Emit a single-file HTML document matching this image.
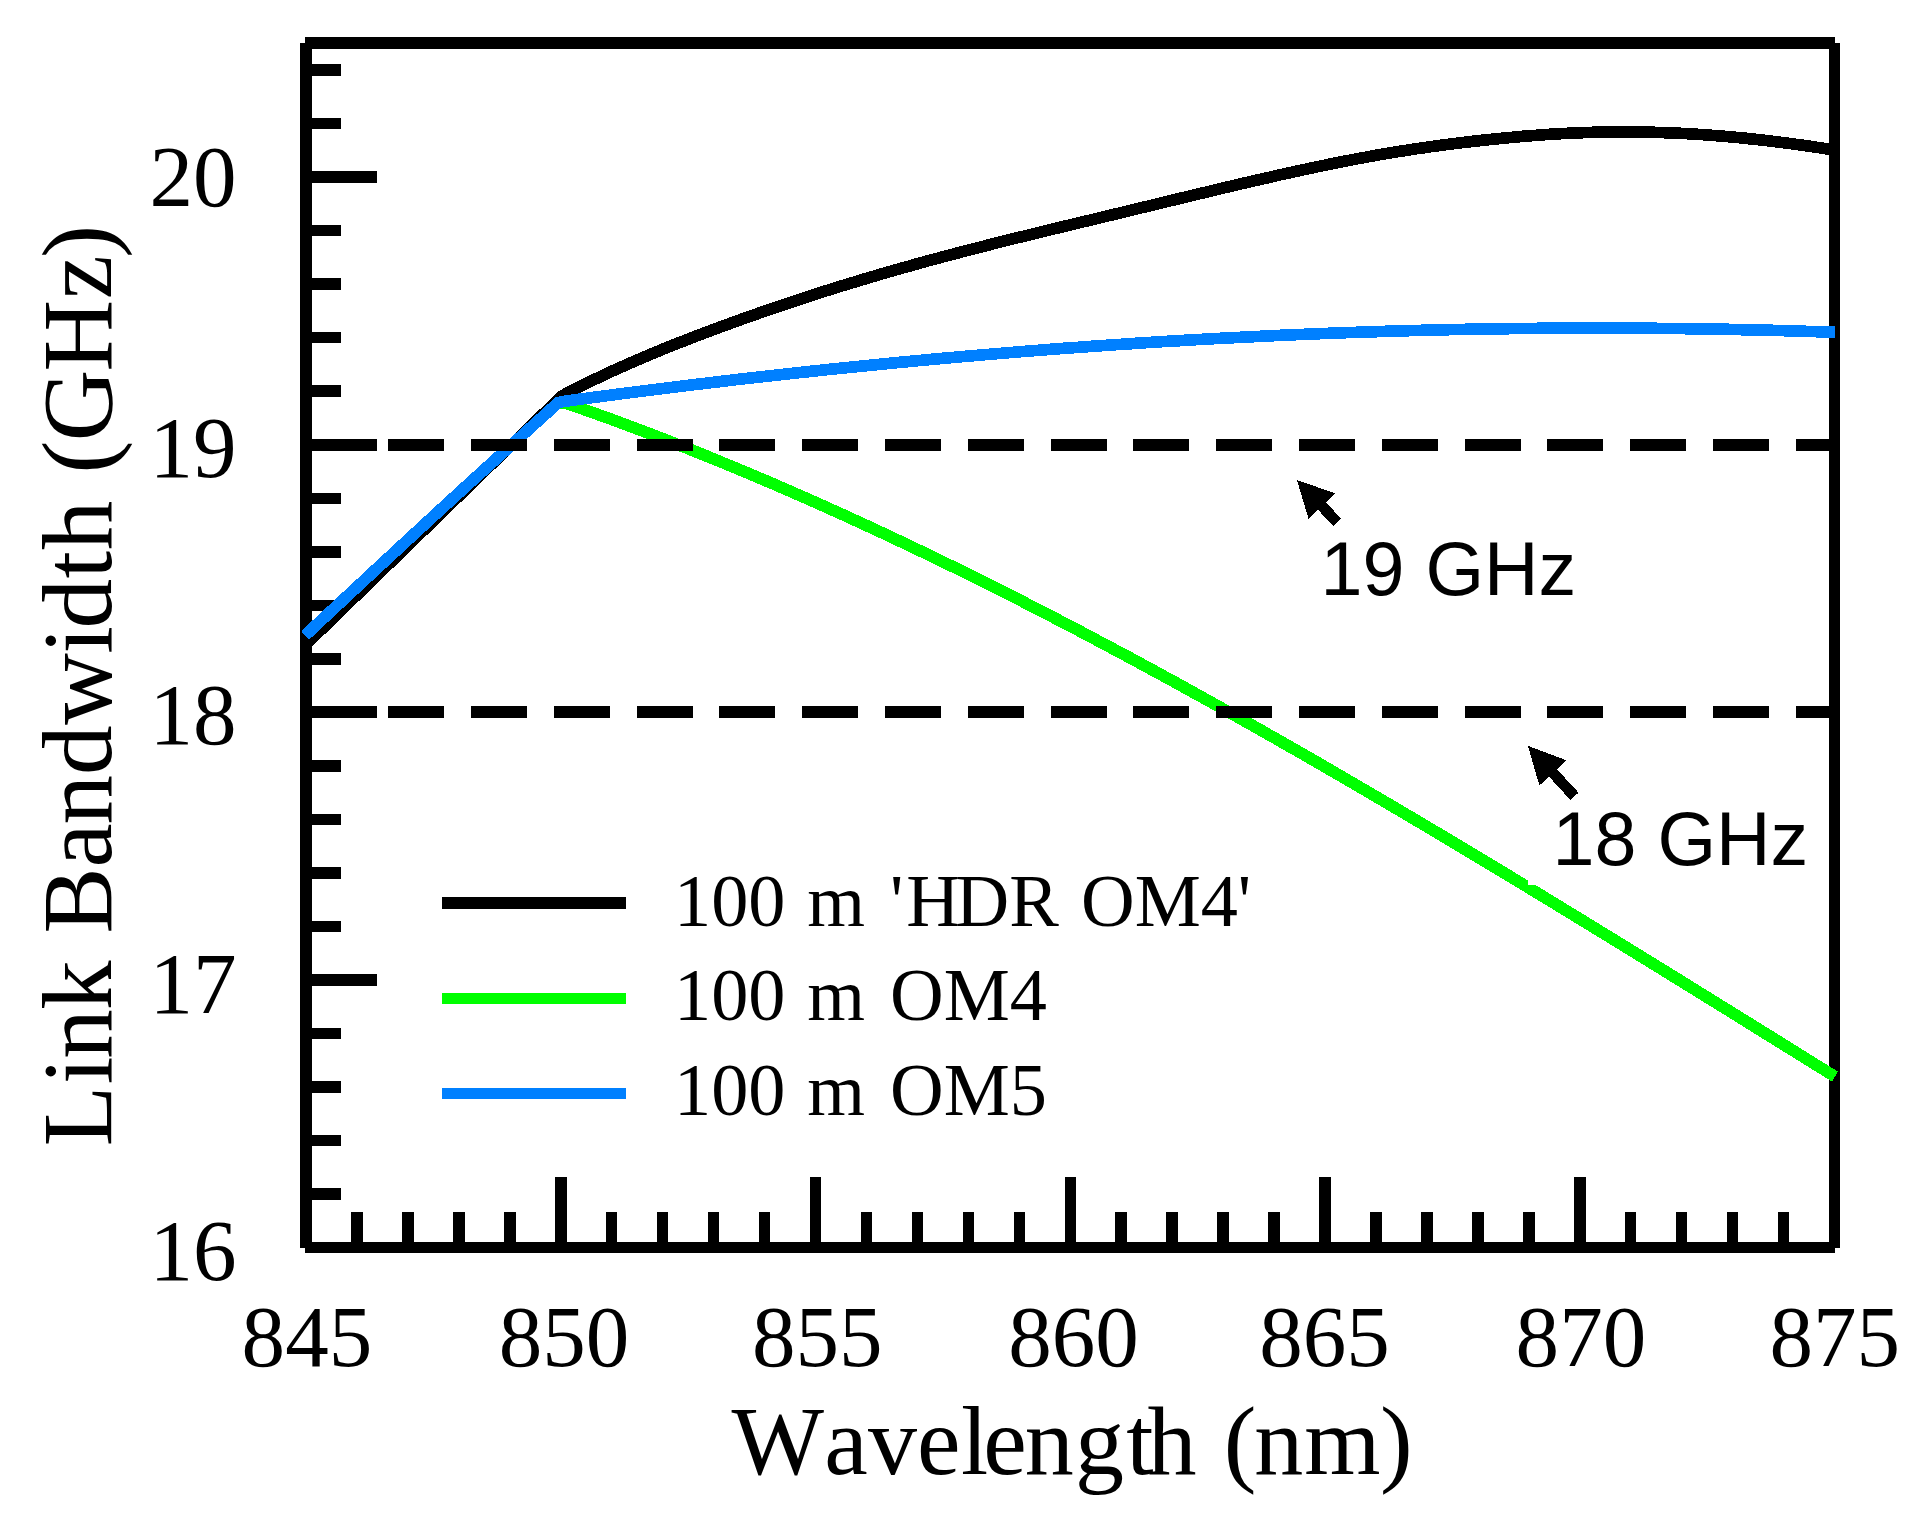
<!DOCTYPE html>
<html lang="en"><head><meta charset="utf-8"><title>Link Bandwidth vs Wavelength</title>
<style>html,body{margin:0;padding:0;background:#fff}body{width:1920px;height:1528px;overflow:hidden}svg{display:block}text{font-kerning:none;font-variant-ligatures:none;fill:#000;white-space:pre}.serif{font-family:"Liberation Serif","Times New Roman",Times,serif}.sans{font-family:"Liberation Sans",Arial,Helvetica,sans-serif}</style></head><body>
<svg width="1920" height="1528" viewBox="0 0 1920 1528" shape-rendering="crispEdges">
<rect width="1920" height="1528" fill="#fff"/>
<g id="axes">
<rect x="300" y="43" width="12" height="1205" fill="#000"/>
<rect x="1829" y="43" width="11" height="1205" fill="#000"/>
<rect x="305" y="37" width="1530" height="12" fill="#000"/>
<rect x="305" y="1242" width="1530" height="11" fill="#000"/>
<rect x="300" y="1188" width="41" height="12" fill="#000"/>
<rect x="300" y="1135" width="41" height="11" fill="#000"/>
<rect x="300" y="1081" width="41" height="12" fill="#000"/>
<rect x="300" y="1028" width="41" height="11" fill="#000"/>
<rect x="300" y="974" width="77" height="12" fill="#000"/>
<rect x="300" y="921" width="41" height="11" fill="#000"/>
<rect x="300" y="867" width="41" height="12" fill="#000"/>
<rect x="300" y="814" width="41" height="11" fill="#000"/>
<rect x="300" y="760" width="41" height="12" fill="#000"/>
<rect x="300" y="706" width="77" height="12" fill="#000"/>
<rect x="300" y="653" width="41" height="12" fill="#000"/>
<rect x="300" y="600" width="41" height="11" fill="#000"/>
<rect x="300" y="546" width="41" height="12" fill="#000"/>
<rect x="300" y="493" width="41" height="11" fill="#000"/>
<rect x="300" y="439" width="77" height="12" fill="#000"/>
<rect x="300" y="385" width="41" height="12" fill="#000"/>
<rect x="300" y="332" width="41" height="11" fill="#000"/>
<rect x="300" y="278" width="41" height="12" fill="#000"/>
<rect x="300" y="225" width="41" height="11" fill="#000"/>
<rect x="300" y="171" width="77" height="12" fill="#000"/>
<rect x="300" y="118" width="41" height="11" fill="#000"/>
<rect x="300" y="64" width="41" height="12" fill="#000"/>
<rect x="351" y="1212" width="12" height="41" fill="#000"/>
<rect x="402" y="1212" width="12" height="41" fill="#000"/>
<rect x="453" y="1212" width="12" height="41" fill="#000"/>
<rect x="504" y="1212" width="12" height="41" fill="#000"/>
<rect x="555" y="1177" width="12" height="76" fill="#000"/>
<rect x="606" y="1212" width="11" height="41" fill="#000"/>
<rect x="657" y="1212" width="11" height="41" fill="#000"/>
<rect x="708" y="1212" width="11" height="41" fill="#000"/>
<rect x="759" y="1212" width="11" height="41" fill="#000"/>
<rect x="810" y="1177" width="11" height="76" fill="#000"/>
<rect x="861" y="1212" width="11" height="41" fill="#000"/>
<rect x="912" y="1212" width="11" height="41" fill="#000"/>
<rect x="963" y="1212" width="11" height="41" fill="#000"/>
<rect x="1014" y="1212" width="11" height="41" fill="#000"/>
<rect x="1065" y="1177" width="11" height="76" fill="#000"/>
<rect x="1115" y="1212" width="12" height="41" fill="#000"/>
<rect x="1166" y="1212" width="12" height="41" fill="#000"/>
<rect x="1217" y="1212" width="12" height="41" fill="#000"/>
<rect x="1268" y="1212" width="12" height="41" fill="#000"/>
<rect x="1319" y="1177" width="12" height="76" fill="#000"/>
<rect x="1370" y="1212" width="12" height="41" fill="#000"/>
<rect x="1421" y="1212" width="12" height="41" fill="#000"/>
<rect x="1472" y="1212" width="12" height="41" fill="#000"/>
<rect x="1523" y="1212" width="12" height="41" fill="#000"/>
<rect x="1574" y="1177" width="12" height="76" fill="#000"/>
<rect x="1625" y="1212" width="11" height="41" fill="#000"/>
<rect x="1676" y="1212" width="11" height="41" fill="#000"/>
<rect x="1727" y="1212" width="11" height="41" fill="#000"/>
<rect x="1778" y="1212" width="11" height="41" fill="#000"/>
</g>
<g id="curves" fill="none" stroke-linecap="butt" stroke-linejoin="miter" stroke-width="11.7">
<path d="M305.0 645.3 L561.3 396.5 L566.0 393.8 L570.0 391.7 L574.0 389.6 L578.0 387.6 L582.0 385.6 L586.0 383.6 L590.0 381.6 L594.0 379.7 L598.0 377.8 L602.0 375.9 L606.0 374.0 L610.0 372.1 L614.0 370.3 L618.0 368.5 L622.0 366.7 L626.0 364.9 L630.0 363.1 L634.0 361.4 L638.0 359.7 L642.0 358.0 L646.0 356.3 L650.0 354.6 L654.0 352.9 L658.0 351.3 L662.0 349.6 L666.0 348.0 L670.0 346.4 L674.0 344.8 L678.0 343.2 L682.0 341.6 L686.0 340.1 L690.0 338.5 L694.0 337.0 L698.0 335.4 L702.0 333.9 L706.0 332.4 L710.0 330.9 L714.0 329.4 L718.0 327.9 L722.0 326.4 L726.0 324.9 L730.0 323.5 L734.0 322.0 L738.0 320.6 L742.0 319.1 L746.0 317.7 L750.0 316.3 L754.0 314.9 L758.0 313.5 L762.0 312.1 L766.0 310.7 L770.0 309.3 L774.0 307.9 L778.0 306.6 L782.0 305.2 L786.0 303.9 L790.0 302.5 L794.0 301.2 L798.0 299.9 L802.0 298.6 L806.0 297.2 L810.0 295.9 L814.0 294.7 L818.0 293.4 L822.0 292.1 L826.0 290.8 L830.0 289.6 L834.0 288.3 L838.0 287.1 L842.0 285.8 L846.0 284.6 L850.0 283.4 L854.0 282.2 L858.0 280.9 L862.0 279.7 L866.0 278.6 L870.0 277.4 L874.0 276.2 L878.0 275.0 L882.0 273.8 L886.0 272.7 L890.0 271.5 L894.0 270.4 L898.0 269.2 L902.0 268.1 L906.0 267.0 L910.0 265.9 L914.0 264.7 L918.0 263.6 L922.0 262.5 L926.0 261.4 L930.0 260.3 L934.0 259.3 L938.0 258.2 L942.0 257.1 L946.0 256.0 L950.0 255.0 L954.0 253.9 L958.0 252.9 L962.0 251.8 L966.0 250.8 L970.0 249.8 L974.0 248.7 L978.0 247.7 L982.0 246.7 L986.0 245.7 L990.0 244.6 L994.0 243.6 L998.0 242.6 L1002.0 241.6 L1006.0 240.6 L1010.0 239.6 L1014.0 238.6 L1018.0 237.6 L1022.0 236.7 L1026.0 235.7 L1030.0 234.7 L1034.0 233.7 L1038.0 232.7 L1042.0 231.8 L1046.0 230.8 L1050.0 229.8 L1054.0 228.8 L1058.0 227.9 L1062.0 226.9 L1066.0 225.9 L1070.0 225.0 L1074.0 224.0 L1078.0 223.1 L1082.0 222.1 L1086.0 221.1 L1090.0 220.2 L1094.0 219.2 L1098.0 218.2 L1102.0 217.3 L1106.0 216.3 L1110.0 215.4 L1114.0 214.4 L1118.0 213.4 L1122.0 212.5 L1126.0 211.5 L1130.0 210.5 L1134.0 209.6 L1138.0 208.6 L1142.0 207.6 L1146.0 206.7 L1150.0 205.7 L1154.0 204.7 L1158.0 203.8 L1162.0 202.8 L1166.0 201.8 L1170.0 200.8 L1174.0 199.9 L1178.0 198.9 L1182.0 197.9 L1186.0 197.0 L1190.0 196.0 L1194.0 195.0 L1198.0 194.1 L1202.0 193.1 L1206.0 192.2 L1210.0 191.2 L1214.0 190.2 L1218.0 189.3 L1222.0 188.3 L1226.0 187.4 L1230.0 186.4 L1234.0 185.5 L1238.0 184.6 L1242.0 183.6 L1246.0 182.7 L1250.0 181.8 L1254.0 180.8 L1258.0 179.9 L1262.0 179.0 L1266.0 178.1 L1270.0 177.2 L1274.0 176.2 L1278.0 175.3 L1282.0 174.4 L1286.0 173.5 L1290.0 172.7 L1294.0 171.8 L1298.0 170.9 L1302.0 170.0 L1306.0 169.2 L1310.0 168.3 L1314.0 167.5 L1318.0 166.6 L1322.0 165.8 L1326.0 165.0 L1330.0 164.1 L1334.0 163.3 L1338.0 162.5 L1342.0 161.7 L1346.0 160.9 L1350.0 160.2 L1354.0 159.4 L1358.0 158.6 L1362.0 157.9 L1366.0 157.2 L1370.0 156.4 L1374.0 155.7 L1378.0 155.0 L1382.0 154.3 L1386.0 153.6 L1390.0 153.0 L1394.0 152.3 L1398.0 151.6 L1402.0 151.0 L1406.0 150.4 L1410.0 149.7 L1414.0 149.1 L1418.0 148.5 L1422.0 148.0 L1426.0 147.4 L1430.0 146.8 L1434.0 146.3 L1438.0 145.7 L1442.0 145.2 L1446.0 144.6 L1450.0 144.1 L1454.0 143.6 L1458.0 143.1 L1462.0 142.6 L1466.0 142.2 L1470.0 141.7 L1474.0 141.2 L1478.0 140.8 L1482.0 140.3 L1486.0 139.9 L1490.0 139.5 L1494.0 139.1 L1498.0 138.7 L1502.0 138.3 L1506.0 137.9 L1510.0 137.5 L1514.0 137.2 L1518.0 136.8 L1522.0 136.4 L1526.0 136.1 L1530.0 135.8 L1534.0 135.5 L1538.0 135.2 L1542.0 134.9 L1546.0 134.6 L1550.0 134.3 L1554.0 134.1 L1558.0 133.8 L1562.0 133.6 L1566.0 133.4 L1570.0 133.2 L1574.0 133.0 L1578.0 132.8 L1582.0 132.7 L1586.0 132.5 L1590.0 132.4 L1594.0 132.3 L1598.0 132.2 L1602.0 132.1 L1606.0 132.0 L1610.0 132.0 L1614.0 132.0 L1618.0 131.9 L1622.0 131.9 L1626.0 131.9 L1630.0 131.9 L1634.0 132.0 L1638.0 132.0 L1642.0 132.1 L1646.0 132.2 L1650.0 132.2 L1654.0 132.3 L1658.0 132.5 L1662.0 132.6 L1666.0 132.7 L1670.0 132.9 L1674.0 133.1 L1678.0 133.2 L1682.0 133.4 L1686.0 133.6 L1690.0 133.9 L1694.0 134.1 L1698.0 134.4 L1702.0 134.6 L1706.0 134.9 L1710.0 135.2 L1714.0 135.5 L1718.0 135.8 L1722.0 136.1 L1726.0 136.5 L1730.0 136.8 L1734.0 137.2 L1738.0 137.6 L1742.0 137.9 L1746.0 138.3 L1750.0 138.8 L1754.0 139.2 L1758.0 139.6 L1762.0 140.1 L1766.0 140.5 L1770.0 141.0 L1774.0 141.5 L1778.0 142.0 L1782.0 142.5 L1786.0 143.0 L1790.0 143.5 L1794.0 144.1 L1798.0 144.6 L1802.0 145.2 L1806.0 145.7 L1810.0 146.3 L1814.0 146.9 L1818.0 147.5 L1822.0 148.1 L1826.0 148.8 L1830.0 149.4 L1834.0 150.1 L1835.5 150.3" stroke="#000"/>
<path d="M558.1 402.7 L566.0 403.2 L570.0 404.6 L574.0 406.0 L578.0 407.4 L582.0 408.8 L586.0 410.2 L590.0 411.6 L594.0 413.0 L598.0 414.5 L602.0 415.9 L606.0 417.4 L610.0 418.8 L614.0 420.3 L618.0 421.8 L622.0 423.3 L626.0 424.8 L630.0 426.2 L634.0 427.7 L638.0 429.3 L642.0 430.8 L646.0 432.3 L650.0 433.8 L654.0 435.3 L658.0 436.9 L662.0 438.4 L666.0 440.0 L670.0 441.5 L674.0 443.1 L678.0 444.7 L682.0 446.3 L686.0 447.8 L690.0 449.4 L694.0 451.0 L698.0 452.6 L702.0 454.2 L706.0 455.8 L710.0 457.5 L714.0 459.1 L718.0 460.7 L722.0 462.4 L726.0 464.0 L730.0 465.7 L734.0 467.3 L738.0 469.0 L742.0 470.7 L746.0 472.3 L750.0 474.0 L754.0 475.7 L758.0 477.4 L762.0 479.1 L766.0 480.8 L770.0 482.5 L774.0 484.2 L778.0 486.0 L782.0 487.7 L786.0 489.4 L790.0 491.2 L794.0 492.9 L798.0 494.7 L802.0 496.4 L806.0 498.2 L810.0 500.0 L814.0 501.7 L818.0 503.5 L822.0 505.3 L826.0 507.1 L830.0 508.9 L834.0 510.7 L838.0 512.5 L842.0 514.3 L846.0 516.1 L850.0 518.0 L854.0 519.8 L858.0 521.6 L862.0 523.5 L866.0 525.3 L870.0 527.2 L874.0 529.0 L878.0 530.9 L882.0 532.7 L886.0 534.6 L890.0 536.5 L894.0 538.4 L898.0 540.3 L902.0 542.2 L906.0 544.1 L910.0 546.0 L914.0 547.9 L918.0 549.8 L922.0 551.7 L926.0 553.6 L930.0 555.6 L934.0 557.5 L938.0 559.4 L942.0 561.4 L946.0 563.3 L950.0 565.3 L954.0 567.2 L958.0 569.2 L962.0 571.2 L966.0 573.1 L970.0 575.1 L974.0 577.1 L978.0 579.1 L982.0 581.1 L986.0 583.1 L990.0 585.1 L994.0 587.1 L998.0 589.1 L1002.0 591.1 L1006.0 593.1 L1010.0 595.1 L1014.0 597.2 L1018.0 599.2 L1022.0 601.2 L1026.0 603.3 L1030.0 605.3 L1034.0 607.4 L1038.0 609.4 L1042.0 611.5 L1046.0 613.6 L1050.0 615.6 L1054.0 617.7 L1058.0 619.8 L1062.0 621.9 L1066.0 623.9 L1070.0 626.0 L1074.0 628.1 L1078.0 630.2 L1082.0 632.3 L1086.0 634.4 L1090.0 636.5 L1094.0 638.6 L1098.0 640.8 L1102.0 642.9 L1106.0 645.0 L1110.0 647.1 L1114.0 649.3 L1118.0 651.4 L1122.0 653.6 L1126.0 655.7 L1130.0 657.8 L1134.0 660.0 L1138.0 662.2 L1142.0 664.3 L1146.0 666.5 L1150.0 668.7 L1154.0 670.8 L1158.0 673.0 L1162.0 675.2 L1166.0 677.4 L1170.0 679.6 L1174.0 681.7 L1178.0 683.9 L1182.0 686.1 L1186.0 688.3 L1190.0 690.5 L1194.0 692.8 L1198.0 695.0 L1202.0 697.2 L1206.0 699.4 L1210.0 701.6 L1214.0 703.8 L1218.0 706.1 L1222.0 708.3 L1226.0 710.5 L1230.0 712.8 L1234.0 715.0 L1238.0 717.3 L1242.0 719.5 L1246.0 721.8 L1250.0 724.0 L1254.0 726.3 L1258.0 728.5 L1262.0 730.8 L1266.0 733.1 L1270.0 735.4 L1274.0 737.6 L1278.0 739.9 L1282.0 742.2 L1286.0 744.5 L1290.0 746.8 L1294.0 749.0 L1298.0 751.3 L1302.0 753.6 L1306.0 755.9 L1310.0 758.2 L1314.0 760.5 L1318.0 762.8 L1322.0 765.1 L1326.0 767.5 L1330.0 769.8 L1334.0 772.1 L1338.0 774.4 L1342.0 776.7 L1346.0 779.1 L1350.0 781.4 L1354.0 783.7 L1358.0 786.1 L1362.0 788.4 L1366.0 790.7 L1370.0 793.1 L1374.0 795.4 L1378.0 797.8 L1382.0 800.1 L1386.0 802.5 L1390.0 804.8 L1394.0 807.2 L1398.0 809.5 L1402.0 811.9 L1406.0 814.3 L1410.0 816.6 L1414.0 819.0 L1418.0 821.4 L1422.0 823.7 L1426.0 826.1 L1430.0 828.5 L1434.0 830.9 L1438.0 833.2 L1442.0 835.6 L1446.0 838.0 L1450.0 840.4 L1454.0 842.8 L1458.0 845.2 L1462.0 847.6 L1466.0 850.0 L1470.0 852.4 L1474.0 854.8 L1478.0 857.2 L1482.0 859.6 L1486.0 862.0 L1490.0 864.4 L1494.0 866.8 L1498.0 869.2 L1502.0 871.6 L1506.0 874.0 L1510.0 876.4 L1514.0 878.9 L1518.0 881.3 L1522.0 883.7 L1526.0 886.1 L1530.0 888.6 L1534.0 891.0 L1538.0 893.4 L1542.0 895.8 L1546.0 898.3 L1550.0 900.7 L1554.0 903.1 L1558.0 905.6 L1562.0 908.0 L1566.0 910.5 L1570.0 912.9 L1574.0 915.3 L1578.0 917.8 L1582.0 920.2 L1586.0 922.7 L1590.0 925.1 L1594.0 927.6 L1598.0 930.0 L1602.0 932.5 L1606.0 934.9 L1610.0 937.4 L1614.0 939.8 L1618.0 942.3 L1622.0 944.7 L1626.0 947.2 L1630.0 949.7 L1634.0 952.1 L1638.0 954.6 L1642.0 957.0 L1646.0 959.5 L1650.0 962.0 L1654.0 964.4 L1658.0 966.9 L1662.0 969.4 L1666.0 971.8 L1670.0 974.3 L1674.0 976.8 L1678.0 979.2 L1682.0 981.7 L1686.0 984.2 L1690.0 986.7 L1694.0 989.1 L1698.0 991.6 L1702.0 994.1 L1706.0 996.6 L1710.0 999.0 L1714.0 1001.5 L1718.0 1004.0 L1722.0 1006.5 L1726.0 1008.9 L1730.0 1011.4 L1734.0 1013.9 L1738.0 1016.4 L1742.0 1018.9 L1746.0 1021.3 L1750.0 1023.8 L1754.0 1026.3 L1758.0 1028.8 L1762.0 1031.3 L1766.0 1033.8 L1770.0 1036.2 L1774.0 1038.7 L1778.0 1041.2 L1782.0 1043.7 L1786.0 1046.2 L1790.0 1048.7 L1794.0 1051.1 L1798.0 1053.6 L1802.0 1056.1 L1806.0 1058.6 L1810.0 1061.1 L1814.0 1063.6 L1818.0 1066.1 L1822.0 1068.5 L1826.0 1071.0 L1830.0 1073.5 L1834.0 1076.0 L1835.0 1076.6" stroke="#00ff00"/>
<path d="M305.2 635.4 L328.2 613.8 L351.2 592.4 L374.2 571.0 L397.2 549.7 L420.2 528.4 L443.1 507.3 L466.1 486.2 L489.1 465.3 L512.1 444.4 L535.1 423.6 L558.1 402.8 L563.0 401.5 L567.0 401.0 L571.0 400.4 L575.0 399.9 L579.0 399.3 L583.0 398.8 L587.0 398.3 L591.0 397.7 L595.0 397.2 L599.0 396.7 L603.0 396.1 L607.0 395.6 L611.0 395.1 L615.0 394.6 L619.0 394.0 L623.0 393.5 L627.0 393.0 L631.0 392.5 L635.0 392.0 L639.0 391.5 L643.0 391.0 L647.0 390.5 L651.0 390.0 L655.0 389.5 L659.0 389.0 L663.0 388.5 L667.0 388.0 L671.0 387.5 L675.0 387.0 L679.0 386.5 L683.0 386.0 L687.0 385.5 L691.0 385.0 L695.0 384.5 L699.0 384.0 L703.0 383.6 L707.0 383.1 L711.0 382.6 L715.0 382.1 L719.0 381.7 L723.0 381.2 L727.0 380.7 L731.0 380.3 L735.0 379.8 L739.0 379.3 L743.0 378.9 L747.0 378.4 L751.0 378.0 L755.0 377.5 L759.0 377.0 L763.0 376.6 L767.0 376.1 L771.0 375.7 L775.0 375.3 L779.0 374.8 L783.0 374.4 L787.0 373.9 L791.0 373.5 L795.0 373.1 L799.0 372.6 L803.0 372.2 L807.0 371.8 L811.0 371.3 L815.0 370.9 L819.0 370.5 L823.0 370.1 L827.0 369.6 L831.0 369.2 L835.0 368.8 L839.0 368.4 L843.0 368.0 L847.0 367.6 L851.0 367.2 L855.0 366.8 L859.0 366.4 L863.0 366.0 L867.0 365.6 L871.0 365.2 L875.0 364.8 L879.0 364.4 L883.0 364.0 L887.0 363.6 L891.0 363.2 L895.0 362.8 L899.0 362.4 L903.0 362.0 L907.0 361.7 L911.0 361.3 L915.0 360.9 L919.0 360.5 L923.0 360.2 L927.0 359.8 L931.0 359.4 L935.0 359.1 L939.0 358.7 L943.0 358.3 L947.0 358.0 L951.0 357.6 L955.0 357.3 L959.0 356.9 L963.0 356.6 L967.0 356.2 L971.0 355.9 L975.0 355.5 L979.0 355.2 L983.0 354.8 L987.0 354.5 L991.0 354.2 L995.0 353.8 L999.0 353.5 L1003.0 353.2 L1007.0 352.8 L1011.0 352.5 L1015.0 352.2 L1019.0 351.8 L1023.0 351.5 L1027.0 351.2 L1031.0 350.9 L1035.0 350.6 L1039.0 350.3 L1043.0 350.0 L1047.0 349.6 L1051.0 349.3 L1055.0 349.0 L1059.0 348.7 L1063.0 348.4 L1067.0 348.1 L1071.0 347.8 L1075.0 347.6 L1079.0 347.3 L1083.0 347.0 L1087.0 346.7 L1091.0 346.4 L1095.0 346.1 L1099.0 345.8 L1103.0 345.6 L1107.0 345.3 L1111.0 345.0 L1115.0 344.7 L1119.0 344.5 L1123.0 344.2 L1127.0 343.9 L1131.0 343.7 L1135.0 343.4 L1139.0 343.1 L1143.0 342.9 L1147.0 342.6 L1151.0 342.4 L1155.0 342.1 L1159.0 341.9 L1163.0 341.6 L1167.0 341.4 L1171.0 341.1 L1175.0 340.9 L1179.0 340.7 L1183.0 340.4 L1187.0 340.2 L1191.0 340.0 L1195.0 339.7 L1199.0 339.5 L1203.0 339.3 L1207.0 339.1 L1211.0 338.8 L1215.0 338.6 L1219.0 338.4 L1223.0 338.2 L1227.0 338.0 L1231.0 337.8 L1235.0 337.6 L1239.0 337.4 L1243.0 337.2 L1247.0 337.0 L1251.0 336.8 L1255.0 336.6 L1259.0 336.4 L1263.0 336.2 L1267.0 336.0 L1271.0 335.8 L1275.0 335.6 L1279.0 335.4 L1283.0 335.2 L1287.0 335.1 L1291.0 334.9 L1295.0 334.7 L1299.0 334.5 L1303.0 334.4 L1307.0 334.2 L1311.0 334.0 L1315.0 333.9 L1319.0 333.7 L1323.0 333.5 L1327.0 333.4 L1331.0 333.2 L1335.0 333.1 L1339.0 332.9 L1343.0 332.8 L1347.0 332.6 L1351.0 332.5 L1355.0 332.4 L1359.0 332.2 L1363.0 332.1 L1367.0 331.9 L1371.0 331.8 L1375.0 331.7 L1379.0 331.6 L1383.0 331.4 L1387.0 331.3 L1391.0 331.2 L1395.0 331.1 L1399.0 331.0 L1403.0 330.8 L1407.0 330.7 L1411.0 330.6 L1415.0 330.5 L1419.0 330.4 L1423.0 330.3 L1427.0 330.2 L1431.0 330.1 L1435.0 330.0 L1439.0 329.9 L1443.0 329.8 L1447.0 329.7 L1451.0 329.6 L1455.0 329.6 L1459.0 329.5 L1463.0 329.4 L1467.0 329.3 L1471.0 329.2 L1475.0 329.2 L1479.0 329.1 L1483.0 329.0 L1487.0 329.0 L1491.0 328.9 L1495.0 328.8 L1499.0 328.8 L1503.0 328.7 L1507.0 328.7 L1511.0 328.6 L1515.0 328.6 L1519.0 328.5 L1523.0 328.5 L1527.0 328.4 L1531.0 328.4 L1535.0 328.4 L1539.0 328.3 L1543.0 328.3 L1547.0 328.3 L1551.0 328.2 L1555.0 328.2 L1559.0 328.2 L1563.0 328.2 L1567.0 328.1 L1571.0 328.1 L1575.0 328.1 L1579.0 328.1 L1583.0 328.1 L1587.0 328.1 L1591.0 328.1 L1595.0 328.1 L1599.0 328.1 L1603.0 328.1 L1607.0 328.1 L1611.0 328.1 L1615.0 328.1 L1619.0 328.1 L1623.0 328.1 L1627.0 328.1 L1631.0 328.2 L1635.0 328.2 L1639.0 328.2 L1643.0 328.2 L1647.0 328.3 L1651.0 328.3 L1655.0 328.3 L1659.0 328.4 L1663.0 328.4 L1667.0 328.4 L1671.0 328.5 L1675.0 328.5 L1679.0 328.6 L1683.0 328.6 L1687.0 328.7 L1691.0 328.7 L1695.0 328.8 L1699.0 328.8 L1703.0 328.9 L1707.0 329.0 L1711.0 329.0 L1715.0 329.1 L1719.0 329.2 L1723.0 329.2 L1727.0 329.3 L1731.0 329.4 L1735.0 329.5 L1739.0 329.6 L1743.0 329.7 L1747.0 329.7 L1751.0 329.8 L1755.0 329.9 L1759.0 330.0 L1763.0 330.1 L1767.0 330.2 L1771.0 330.3 L1775.0 330.4 L1779.0 330.5 L1783.0 330.6 L1787.0 330.8 L1791.0 330.9 L1795.0 331.0 L1799.0 331.1 L1803.0 331.2 L1807.0 331.4 L1811.0 331.5 L1815.0 331.6 L1819.0 331.8 L1823.0 331.9 L1827.0 332.0 L1831.0 332.2 L1835.0 332.3" stroke="#0080ff"/>
</g>
<polygon points="1528,878 1528,885 1536,885 1536,882" fill="#fff"/>
<g id="legend-lines">
<rect x="442" y="897" width="184" height="12" fill="#000"/>
<rect x="442" y="993" width="184" height="11" fill="#00ff00"/>
<rect x="442" y="1088" width="184" height="11" fill="#0080ff"/>
</g>
<g id="dashes">
<rect x="305" y="439" width="56" height="12" fill="#000"/>
<rect x="388" y="439" width="56" height="12" fill="#000"/>
<rect x="471" y="439" width="56" height="12" fill="#000"/>
<rect x="554" y="439" width="56" height="12" fill="#000"/>
<rect x="637" y="439" width="56" height="12" fill="#000"/>
<rect x="719" y="439" width="56" height="12" fill="#000"/>
<rect x="802" y="439" width="56" height="12" fill="#000"/>
<rect x="885" y="439" width="56" height="12" fill="#000"/>
<rect x="968" y="439" width="56" height="12" fill="#000"/>
<rect x="1051" y="439" width="56" height="12" fill="#000"/>
<rect x="1133" y="439" width="56" height="12" fill="#000"/>
<rect x="1216" y="439" width="56" height="12" fill="#000"/>
<rect x="1299" y="439" width="56" height="12" fill="#000"/>
<rect x="1382" y="439" width="56" height="12" fill="#000"/>
<rect x="1465" y="439" width="56" height="12" fill="#000"/>
<rect x="1547" y="439" width="56" height="12" fill="#000"/>
<rect x="1630" y="439" width="56" height="12" fill="#000"/>
<rect x="1713" y="439" width="56" height="12" fill="#000"/>
<rect x="1796" y="439" width="33" height="12" fill="#000"/>
<rect x="305" y="706" width="56" height="12" fill="#000"/>
<rect x="388" y="706" width="56" height="12" fill="#000"/>
<rect x="471" y="706" width="56" height="12" fill="#000"/>
<rect x="554" y="706" width="56" height="12" fill="#000"/>
<rect x="637" y="706" width="56" height="12" fill="#000"/>
<rect x="719" y="706" width="56" height="12" fill="#000"/>
<rect x="802" y="706" width="56" height="12" fill="#000"/>
<rect x="885" y="706" width="56" height="12" fill="#000"/>
<rect x="968" y="706" width="56" height="12" fill="#000"/>
<rect x="1051" y="706" width="56" height="12" fill="#000"/>
<rect x="1133" y="706" width="56" height="12" fill="#000"/>
<rect x="1216" y="706" width="56" height="12" fill="#000"/>
<rect x="1299" y="706" width="56" height="12" fill="#000"/>
<rect x="1382" y="706" width="56" height="12" fill="#000"/>
<rect x="1465" y="706" width="56" height="12" fill="#000"/>
<rect x="1547" y="706" width="56" height="12" fill="#000"/>
<rect x="1630" y="706" width="56" height="12" fill="#000"/>
<rect x="1713" y="706" width="56" height="12" fill="#000"/>
<rect x="1796" y="706" width="33" height="12" fill="#000"/>
</g>
<g id="arrows">
<polygon points="1296.9,480.0 1335.3,493.4 1325.8,502.4 1341.2,518.5 1333.4,525.9 1318.0,509.9 1308.6,518.9" fill="#000"/>
<polygon points="1527.9,745.8 1566.6,760.4 1557.0,769.3 1578.5,792.6 1570.5,800.0 1549.0,776.7 1539.4,785.5" fill="#000"/>
</g>
<g class="sans" font-size="75.4">
<text x="1320.6" y="595">19 GHz</text>
<text x="1552.6" y="865">18 GHz</text>
</g>
<g class="serif" font-size="74.3">
<text y="926.2"><tspan x="674">100 </tspan><tspan x="807.3">m </tspan><tspan x="890">'</tspan><tspan x="906.3">H</tspan><tspan x="955.5">DR </tspan><tspan x="1081">OM4'</tspan></text>
<text y="1020.4"><tspan x="674">100 </tspan><tspan x="807.3">m </tspan><tspan x="890">OM4</tspan></text>
<text y="1115.2"><tspan x="674">100 </tspan><tspan x="807.3">m </tspan><tspan x="890">OM5</tspan></text>
</g>
<g class="serif" font-size="87.1" text-anchor="middle">
<text x="306.9" y="1366">845</text>
<text x="564" y="1366">850</text>
<text x="817.3" y="1366">855</text>
<text x="1073.6" y="1366">860</text>
<text x="1324.6" y="1366">865</text>
<text x="1580.9" y="1366">870</text>
<text x="1834.7" y="1366">875</text>
</g>
<g class="serif" font-size="87.1" text-anchor="end">
<text x="236.5" y="205.8">20</text>
<text x="236.5" y="476.8">19</text>
<text x="236.5" y="743.75">18</text>
<text x="236.5" y="1012.9">17</text>
<text x="236.5" y="1279.8">16</text>
</g>
<g class="serif">
<text font-size="98" x="731.5 824.3 867.9 917.0 961.1 983.3 1024.7 1075.0 1126.2 1147.5 1196.5 1223.7 1254.2 1304.2 1379.9" y="1473.75">Wavelength (nm)</text>
<text font-size="99.2" transform="translate(110.8,1146.3) rotate(-90)" x="0.0 62.0 87.6 136.3 185.3 212.8 278.7 321.7 371.4 421.5 492.5 517.8 567.9 596.1 645.1 672.8 705.0 774.7 847.0 888.4" y="0">Link Bandwidth (GHz)</text>
</g>
</svg></body></html>
